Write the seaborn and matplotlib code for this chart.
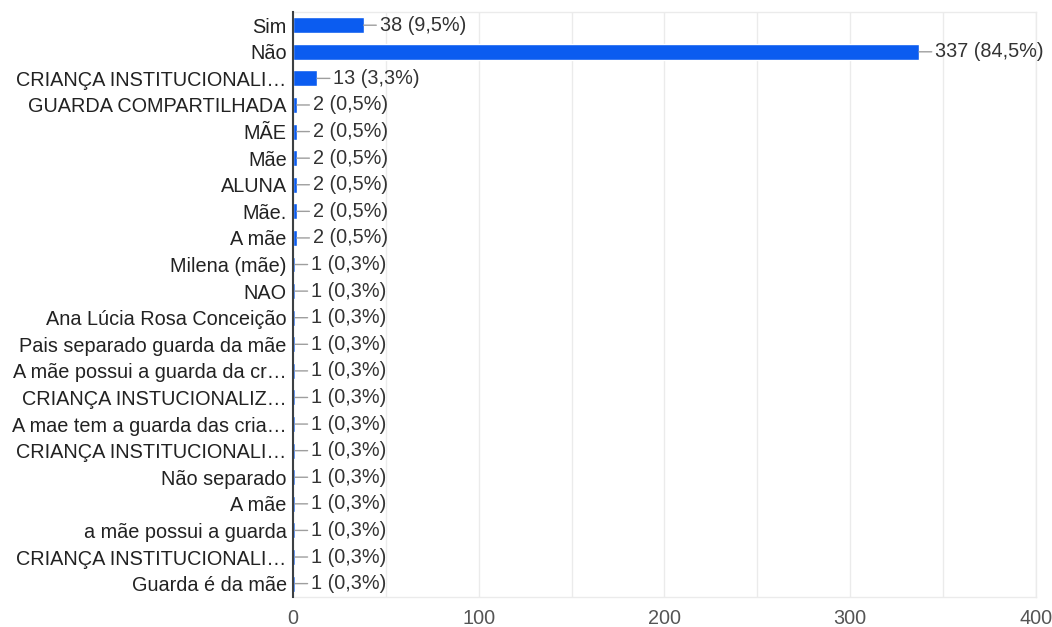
import matplotlib
matplotlib.use("Agg")
import matplotlib.pyplot as plt
from matplotlib.ticker import MultipleLocator
import seaborn as sns
import pandas as pd

# respostas (rótulos como aparecem, já truncados pelo formulário)
categories = [
    "Sim", "Não", "CRIANÇA INSTITUCIONALI…", "GUARDA COMPARTILHADA", "MÃE",
    "Mãe", "ALUNA", "Mãe.", "A mãe", "Milena (mãe)", "NAO",
    "Ana Lúcia Rosa Conceição", "Pais separado guarda da mãe",
    "A mãe possui a guarda da cr…", "CRIANÇA INSTUCIONALIZ…",
    "A mae tem a guarda das cria…", "CRIANÇA INSTITUCIONALI…", "Não separado",
    "A mãe", "a mãe possui a guarda", "CRIANÇA INSTITUCIONALI…", "Guarda é da mãe",
]
counts = [38, 337, 13, 2, 2, 2, 2, 2, 2, 1, 1, 1, 1, 1, 1, 1, 1, 1, 1, 1, 1, 1]
percents = ["9,5", "84,5", "3,3", "0,5", "0,5", "0,5", "0,5", "0,5", "0,5",
            "0,3", "0,3", "0,3", "0,3", "0,3", "0,3", "0,3", "0,3", "0,3",
            "0,3", "0,3", "0,3", "0,3"]
x_ticks = [0, 100, 200, 300, 400]

BLUE = "#0b5cf0"
FONT = ["Liberation Sans", "DejaVu Sans"]

sns.set_theme(style="white")
plt.rcParams["font.family"] = FONT

# rótulos repetidos -> usar índice como chave e trocar os ticks depois
df = pd.DataFrame({
    "key": [str(i) for i in range(len(categories))],
    "count": counts,
})

fig = plt.figure(figsize=(10.52, 6.27), dpi=100)
ax = fig.add_axes([0.2785, 0.048, 0.7063, 0.933])

sns.barplot(data=df, x="count", y="key", orient="h", color=BLUE,
            width=0.6, saturation=1, ax=ax, zorder=3)

ax.set_xlim(0, 400)
ax.set_ylim(len(categories) - 0.5, -0.5)
ax.set_xticks(x_ticks)
ax.set_xticklabels([str(t) for t in x_ticks], fontsize=14.3, color="#555555")
ax.xaxis.set_minor_locator(MultipleLocator(50))
ax.set_yticks(range(len(categories)))
ax.set_yticklabels(categories, fontsize=14.3, color="#222222")
ax.tick_params(axis="both", which="both", length=0)
ax.tick_params(axis="y", pad=4.5)
ax.tick_params(axis="x", pad=9)
ax.set_xlabel("")
ax.set_ylabel("")

ax.grid(axis="x", which="both", color="#ebebeb", lw=1, zorder=0)
ax.grid(axis="y", visible=False)
for side in ["top", "bottom", "right"]:
    ax.spines[side].set_color("#ebebeb")
    ax.spines[side].set_linewidth(1)
ax.spines["left"].set_color("#3c4043")
ax.spines["left"].set_linewidth(1.5)
ax.spines["left"].set_zorder(5)

# rótulos de valor com linha guia
for i, (c, p) in enumerate(zip(counts, percents)):
    ax.annotate(f"{c} ({p}%)", xy=(c, i), xytext=(16, 0),
                textcoords="offset pixels", ha="left", va="center",
                fontsize=14.3, color="#333333", annotation_clip=False,
                arrowprops=dict(arrowstyle="-", color="#9e9e9e", lw=1,
                                shrinkA=0, shrinkB=0))

fig.savefig("out.png", dpi=100)
